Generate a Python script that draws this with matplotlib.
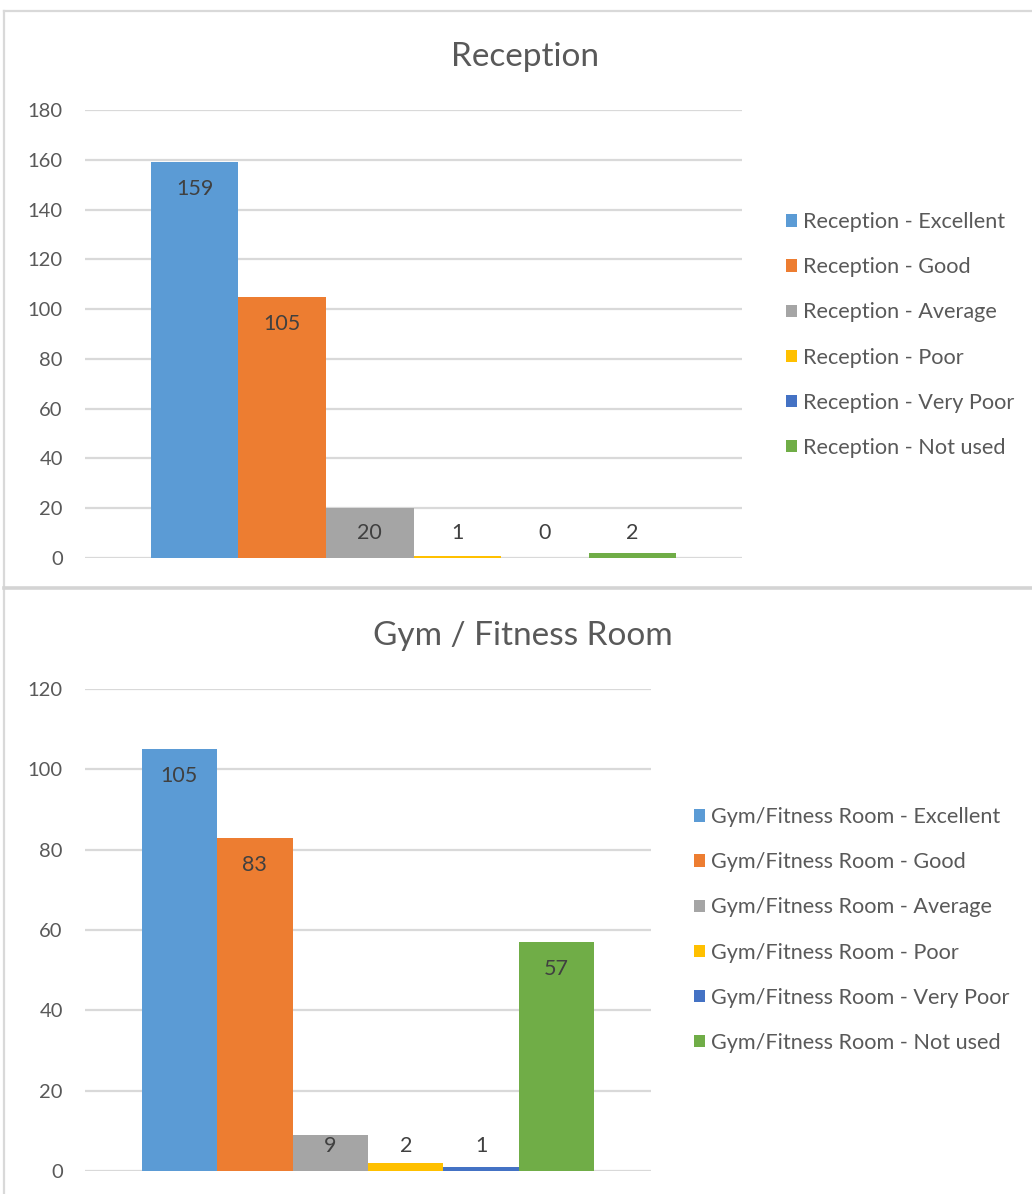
import matplotlib.pyplot as plt
from matplotlib.lines import Line2D

plt.rcParams['font.family'] = ['Lato', 'DejaVu Sans']

# rating categories and counts for each facility
ratings = ["Excellent", "Good", "Average", "Poor", "Very Poor", "Not used"]
reception_counts = [159, 105, 20, 1, 0, 2]
gym_counts = [105, 83, 9, 2, 1, 57]

reception_ticks = [0, 20, 40, 60, 80, 100, 120, 140, 160, 180]
gym_ticks = [0, 20, 40, 60, 80, 100, 120]

colors = ["#5B9BD5", "#ED7D31", "#A5A5A5", "#FFC000", "#4472C4", "#70AD47"]
text_col = "#595959"
grid_col = "#D9D9D9"

W, H = 1032, 1194
fig = plt.figure(figsize=(W / 100, H / 100), dpi=100)


def bar_panel(rect, title, prefix, counts, ticks, title_xy, legend_xy):
    ax = fig.add_axes(rect)
    n = len(counts)
    xs = [i - (n - 1) / 2 for i in range(n)]
    for x, c, col, r in zip(xs, counts, colors, ratings):
        ax.bar(x, c, width=1.0, color=col, label=f"{prefix} - {r}", zorder=3)
    ax.set_xlim(-3.75, 3.75)
    ax.set_ylim(ticks[0], ticks[-1])
    ax.set_yticks(ticks)
    ax.set_xticks([])
    for s in ax.spines.values():
        s.set_visible(False)
    ax.yaxis.grid(True, color=grid_col, linewidth=1.6, zorder=0)
    ax.set_axisbelow(True)
    ax.tick_params(axis='y', length=0, pad=16, labelsize=14.5, labelcolor=text_col)

    # data labels: just inside the bar top, or above short bars
    px_h = rect[3] * H
    per_px = (ticks[-1] - ticks[0]) / px_h
    for x, c in zip(xs, counts):
        y = max(c - 27 * per_px, 25 * per_px)
        ax.text(x, y, str(c), ha='center', va='center', fontsize=15.5,
                color="#404040", zorder=4)

    fig.text(title_xy[0], title_xy[1], title, ha='center', va='center',
             fontsize=24, color=text_col)

    handles, labels = ax.get_legend_handles_labels()
    leg = fig.legend(handles, labels, loc='center left', bbox_to_anchor=legend_xy,
                     frameon=False, fontsize=15.6, handlelength=0.5, handleheight=0.5,
                     handletextpad=0.3, labelspacing=1.16, borderpad=0, borderaxespad=0)
    for t in leg.get_texts():
        t.set_color(text_col)
    return ax


bar_panel([85 / W, 1 - 558 / H, 657 / W, 448 / H], "Reception", "Reception",
          reception_counts, reception_ticks, (525 / W, 1 - 57 / H),
          (786 / W, 1 - 335 / H))
bar_panel([85 / W, 1 - 1171 / H, 566 / W, 482 / H], "Gym / Fitness Room",
          "Gym/Fitness Room", gym_counts, gym_ticks, (523 / W, 1 - 636 / H),
          (694 / W, 1 - 930 / H))


# chart area frames
def fline(x0, y0, x1, y1, lw, col):
    fig.add_artist(Line2D([x0 / W, x1 / W], [1 - y0 / H, 1 - y1 / H],
                          color=col, linewidth=lw, transform=fig.transFigure))


fline(4, 11, W, 11, 1.6, "#D9D9D9")
fline(4, 11, 4, H, 1.6, "#D9D9D9")
fline(4, 588, W, 588, 2.6, "#D4D4D4")

fig.savefig("out.png", dpi=100, facecolor="white")
